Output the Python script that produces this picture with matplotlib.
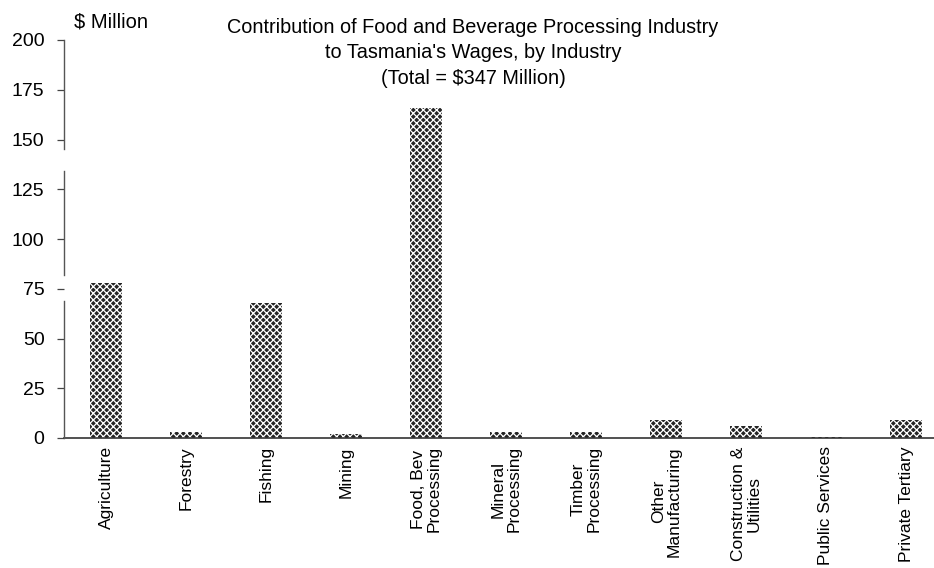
import matplotlib
matplotlib.use("Agg")
import matplotlib.pyplot as plt
import matplotlib.transforms as mtransforms

# Wages contributed by the food & beverage processing industry, $ million
industries = [
    "Agriculture", "Forestry", "Fishing", "Mining", "Food, Bev\nProcessing",
    "Mineral\nProcessing", "Timber\nProcessing", "Other\nManufacturing",
    "Construction &\nUtilities", "Public Services", "Private Tertiary",
]
wages = [78, 3, 68, 2, 166, 3, 3, 9, 6, 0.3, 9]
y_ticks = [0, 25, 50, 75, 100, 125, 150, 175, 200]

plt.rcParams["font.family"] = ["Liberation Sans", "DejaVu Sans"]
plt.rcParams["hatch.linewidth"] = 0.9

W, H = 934, 568
fig = plt.figure(figsize=(W / 100, H / 100), dpi=100)
ax = fig.add_axes([64 / W, (H - 438) / H, (W - 64) / W, 398 / H])

x = range(len(industries))
ax.bar(x, wages, width=0.4, color="#242424", edgecolor="white",
       linewidth=0, hatch="xxxxx", zorder=2)

ax.set_xlim(-0.525, 10.35)
ax.set_ylim(0, 200)
ax.set_yticks(y_ticks)
ax.set_yticklabels([str(v) for v in y_ticks], fontsize=14)
ax.set_xticks(list(x))
ax.set_xticklabels(industries, rotation=90, fontsize=12.5,
                   multialignment="center", va="top", ha="center",
                   linespacing=1.05)
ax.tick_params(axis="x", length=0, pad=6)
ax.tick_params(axis="y", direction="out", length=5, width=0.9, pad=9,
               color="#444444")

for side in ("top", "right", "left"):
    ax.spines[side].set_visible(False)
ax.spines["bottom"].set_color("#333333")
ax.spines["bottom"].set_linewidth(1.2)

# left axis line, drawn in pieces as printed
trans = mtransforms.blended_transform_factory(ax.transAxes, ax.transData)
for lo, hi in [(0, 69), (82, 134), (145, 200)]:
    ax.plot([0, 0], [lo, hi], transform=trans, color="#555555", lw=1.0,
            clip_on=False, zorder=3)

fig.text(74 / W, 1 - 22 / H, "$ Million", fontsize=14.5, ha="left",
         va="center")
fig.text(473 / W, 1 - 53 / H,
         "Contribution of Food and Beverage Processing Industry\n"
         "to Tasmania's Wages, by Industry\n"
         "(Total = $347 Million)",
         fontsize=14.3, ha="center", va="center", linespacing=1.42)

fig.savefig("out.png", dpi=100, facecolor="white")
